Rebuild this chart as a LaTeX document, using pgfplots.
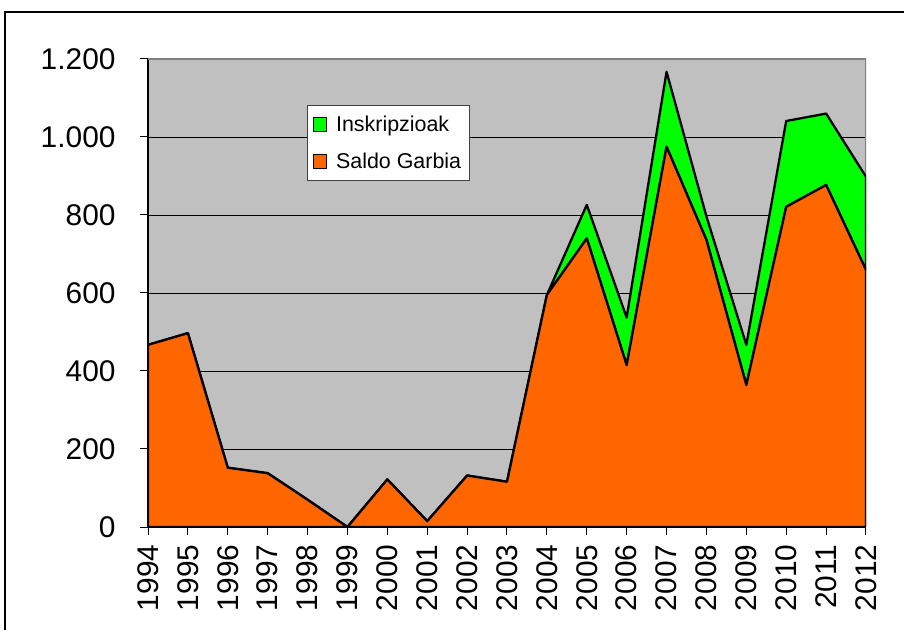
\documentclass[border=0pt]{standalone}
\usepackage{pgfplots}
\pgfplotsset{compat=1.18}
\usepackage{pgfplotstable}
\usepackage{fontspec}
\setmainfont{Liberation Sans}
\definecolor{orng}{HTML}{FF6600}
\definecolor{grn}{HTML}{00FF00}
\definecolor{plotbg}{HTML}{C0C0C0}
\definecolor{frameg}{HTML}{808080}
\pgfplotstableread{
year saldo insk
1994 467 0
1995 497 0
1996 152 0
1997 138 0
1998 70 0
1999 0 0
2000 122 0
2001 15 0
2002 132 0
2003 116 0
2004 595 0
2005 740 86
2006 415 122
2007 975 192
2008 736 60
2009 364 103
2010 821 220
2011 877 183
2012 659 239
}\data
\begin{document}
\begin{tikzpicture}
\useasboundingbox (0,0) rectangle (904bp,630bp);
\draw[line width=1.5bp] (5bp,-20bp) -- (5bp,618bp) -- (930bp,618bp);
\begin{axis}[
  at={(148bp,103bp)}, anchor=south west,
  scale only axis, width=718bp, height=468bp,
  xmin=1994, xmax=2012, ymin=0, ymax=1200,
  stack plots=y,
  axis x line*=bottom, axis y line*=left,
  axis line style={-, black, line width=1.2bp},
  axis background/.style={fill=plotbg},
  xtick={1994,...,2012},
  ytick={0,200,...,1200},
  ymajorgrids, grid style={black, line width=0.8bp},
  tick align=outside, major tick length=8bp,
  tick style={black, line width=1bp},
  /pgf/number format/assume math mode=true,
  ticklabel style={font=\fontsize{30}{34}\selectfont},
  xticklabel style={rotate=90, anchor=east, /pgf/number format/1000 sep={}},
  yticklabel style={/pgf/number format/1000 sep={.}},
  xticklabel shift=6bp,
  yticklabel shift=21bp,
  legend style={at={(0.2214,0.9017)}, anchor=north west, draw=black!75, line width=1bp, fill=white,
    font=\fontsize{21.5}{25}\selectfont, row sep=16bp, inner xsep=6bp, inner ysep=8.5bp},
  legend cell align=left,
  reverse legend,
  legend image code/.code={\draw[#1, draw=black, line width=1bp] (0bp,-6.5bp) rectangle (13bp,6.5bp); \path (19bp,0bp);},
]
\addplot[fill=orng, draw=black, line width=2.3bp, line join=round] table[x=year,y=saldo]{\data} \closedcycle;
\addlegendentry{Saldo Garbia}
\addplot[fill=grn, draw=black, line width=2.3bp, line join=round] table[x=year,y=insk]{\data} \closedcycle;
\addlegendentry{Inskripzioak}
\draw[frameg, line width=2bp] (rel axis cs:0,1) -- (rel axis cs:1,1) -- (rel axis cs:1,0);
\end{axis}
\end{tikzpicture}
\end{document}
